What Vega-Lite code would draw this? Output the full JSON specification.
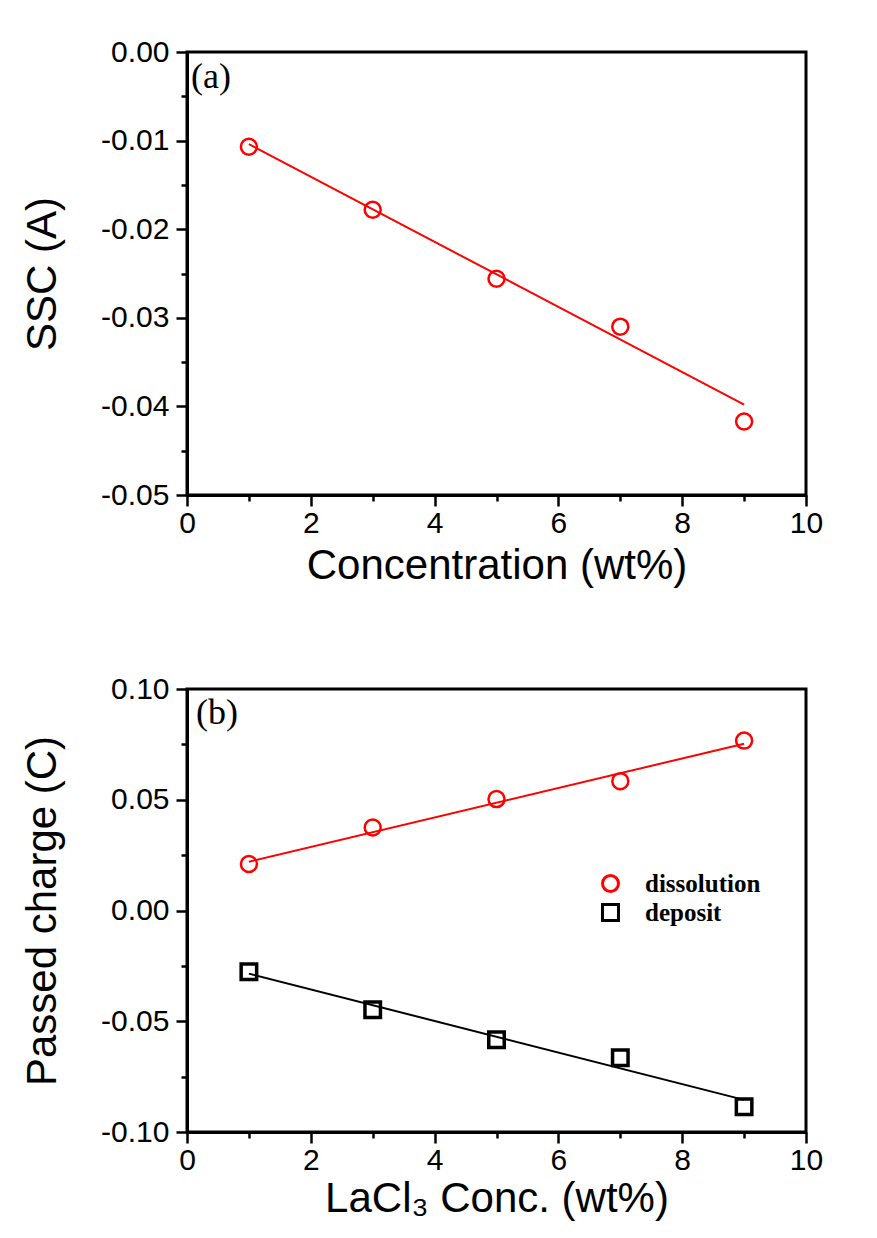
{
  "$schema": "https://vega.github.io/schema/vega-lite/v6.json",
  "background": "white",
  "padding": {"left": 20, "top": 35, "right": 10, "bottom": 10},
  "bounds": "flush",
  "spacing": 194,
  "config": {
    "view": {"stroke": "black", "strokeWidth": 3},
    "axis": {
      "grid": false,
      "domainColor": "black",
      "domainWidth": 3,
      "tickColor": "black",
      "tickWidth": 2.5,
      "labelFont": "Liberation Sans",
      "labelFontSize": 30,
      "labelColor": "black",
      "labelFlush": false,
      "labelOverlap": false,
      "titleFont": "Liberation Sans",
      "titleFontSize": 42,
      "titleFontWeight": "normal",
      "titleColor": "black"
    }
  },
  "datasets": {
    "a": [
      {"conc": 1, "ssc": -0.0107},
      {"conc": 3, "ssc": -0.0178},
      {"conc": 5, "ssc": -0.0256},
      {"conc": 7, "ssc": -0.0310},
      {"conc": 9, "ssc": -0.0417}
    ],
    "afit": [
      {"conc": 1, "ssc": -0.0104},
      {"conc": 9, "ssc": -0.0398}
    ],
    "b": [
      {"conc": 1, "charge": 0.0210, "series": "dissolution"},
      {"conc": 3, "charge": 0.0375, "series": "dissolution"},
      {"conc": 5, "charge": 0.0503, "series": "dissolution"},
      {"conc": 7, "charge": 0.0584, "series": "dissolution"},
      {"conc": 9, "charge": 0.0767, "series": "dissolution"},
      {"conc": 1, "charge": -0.0277, "series": "deposit"},
      {"conc": 3, "charge": -0.0448, "series": "deposit"},
      {"conc": 5, "charge": -0.0584, "series": "deposit"},
      {"conc": 7, "charge": -0.0665, "series": "deposit"},
      {"conc": 9, "charge": -0.0886, "series": "deposit"}
    ],
    "bfit": [
      {"conc": 1, "charge": 0.0220, "series": "dissolution"},
      {"conc": 9, "charge": 0.0753, "series": "dissolution"},
      {"conc": 1, "charge": -0.0285, "series": "deposit"},
      {"conc": 9, "charge": -0.0855, "series": "deposit"}
    ]
  },
  "vconcat": [
    {
      "width": 619,
      "height": 443,
      "layer": [
        {
          "data": {"name": "afit"},
          "mark": {"type": "line", "color": "#FF0000", "strokeWidth": 2},
          "encoding": {
            "x": {
              "field": "conc", "type": "quantitative",
              "scale": {"domain": [0, 10], "nice": false, "zero": false},
              "axis": {
                "title": "Concentration (wt%)",
                "values": [0,1,2,3,4,5,6,7,8,9,10],
                "labelExpr": "datum.value % 2 === 0 ? format(datum.value, 'd') : ''",
                "tickSize": {"condition": {"test": "datum.value % 2 !== 0", "value": 6}, "value": 11},
                "labelPadding": 2,
                "titlePadding": 7
              }
            },
            "y": {
              "field": "ssc", "type": "quantitative",
              "scale": {"domain": [-0.05, 0], "nice": false, "zero": false},
              "axis": {
                "title": "SSC (A)",
                "values": [0,-0.005,-0.01,-0.015,-0.02,-0.025,-0.03,-0.035,-0.04,-0.045,-0.05],
                "labelExpr": "round(abs(datum.value)*200) % 2 === 0 ? replace(format(datum.value, '.2f'), '\u2212', '-') : ''",
                "tickSize": {"condition": {"test": "round(abs(datum.value)*200) % 2 !== 0", "value": 6}, "value": 11},
                "labelPadding": 7,
                "titlePadding": 36
              }
            }
          }
        },
        {
          "data": {"name": "a"},
          "mark": {"type": "point", "shape": "circle", "filled": false, "color": "#FF0000", "size": 256, "strokeWidth": 2.5, "opacity": 1},
          "encoding": {
            "x": {"field": "conc", "type": "quantitative"},
            "y": {"field": "ssc", "type": "quantitative"}
          }
        },
        {
          "data": {"values": [{"label": "(a)"}]},
          "mark": {"type": "text", "font": "Liberation Serif", "fontSize": 36, "align": "left", "baseline": "alphabetic", "color": "black"},
          "encoding": {
            "x": {"datum": 0.065, "type": "quantitative"},
            "y": {"datum": -0.00406, "type": "quantitative"},
            "text": {"field": "label"}
          }
        }
      ]
    },
    {
      "width": 619,
      "height": 443,
      "layer": [
        {
          "data": {"name": "bfit"},
          "transform": [{"filter": "datum.series === 'dissolution'"}],
          "mark": {"type": "line", "color": "#FF0000", "strokeWidth": 2},
          "encoding": {
            "x": {
              "field": "conc", "type": "quantitative",
              "scale": {"domain": [0, 10], "nice": false, "zero": false},
              "axis": {
                "title": "LaCl\u2083 Conc. (wt%)",
                "values": [0,1,2,3,4,5,6,7,8,9,10],
                "labelExpr": "datum.value % 2 === 0 ? format(datum.value, 'd') : ''",
                "tickSize": {"condition": {"test": "datum.value % 2 !== 0", "value": 6}, "value": 11},
                "labelPadding": 2,
                "titlePadding": 3
              }
            },
            "y": {
              "field": "charge", "type": "quantitative",
              "scale": {"domain": [-0.1, 0.1], "nice": false, "zero": false},
              "axis": {
                "title": "Passed charge (C)",
                "values": [0.1,0.075,0.05,0.025,0,-0.025,-0.05,-0.075,-0.1],
                "labelExpr": "round(abs(datum.value)*40) % 2 === 0 ? replace(format(datum.value, '.2f'), '\u2212', '-') : ''",
                "tickSize": {"condition": {"test": "round(abs(datum.value)*40) % 2 !== 0", "value": 6}, "value": 11},
                "labelPadding": 7,
                "titlePadding": 36
              }
            }
          }
        },
        {
          "data": {"name": "bfit"},
          "transform": [{"filter": "datum.series === 'deposit'"}],
          "mark": {"type": "line", "color": "black", "strokeWidth": 2},
          "encoding": {
            "x": {"field": "conc", "type": "quantitative"},
            "y": {"field": "charge", "type": "quantitative"}
          }
        },
        {
          "data": {"name": "b"},
          "transform": [{"filter": "datum.series === 'dissolution'"}],
          "mark": {"type": "point", "filled": false, "size": 256, "strokeWidth": 2.5, "opacity": 1},
          "encoding": {
            "x": {"field": "conc", "type": "quantitative"},
            "y": {"field": "charge", "type": "quantitative"},
            "color": {
              "field": "series", "type": "nominal",
              "scale": {"domain": ["dissolution", "deposit"], "range": ["#FF0000", "#000000"]},
              "legend": {
                "orient": "none", "legendX": 411, "legendY": 819,
                "title": null,
                "labelFont": "Liberation Serif", "labelFontWeight": "bold", "labelFontSize": 25, "labelColor": "black",
                "symbolSize": 256, "symbolStrokeWidth": 3, "symbolOpacity": 1,
                "labelOffset": 22, "rowPadding": 0
              }
            },
            "shape": {
              "field": "series", "type": "nominal",
              "scale": {"domain": ["dissolution", "deposit"], "range": ["circle", "square"]}
            }
          }
        },
        {
          "data": {"name": "b"},
          "transform": [{"filter": "datum.series === 'deposit'"}],
          "mark": {"type": "point", "filled": false, "size": 240, "strokeWidth": 3.5, "opacity": 1},
          "encoding": {
            "x": {"field": "conc", "type": "quantitative"},
            "y": {"field": "charge", "type": "quantitative"},
            "color": {"field": "series", "type": "nominal"},
            "shape": {"field": "series", "type": "nominal"}
          }
        },
        {
          "data": {"values": [{"label": "(b)"}]},
          "mark": {"type": "text", "font": "Liberation Serif", "fontSize": 36, "align": "left", "baseline": "alphabetic", "color": "black"},
          "encoding": {
            "x": {"datum": 0.145, "type": "quantitative"},
            "y": {"datum": 0.0842, "type": "quantitative"},
            "text": {"field": "label"}
          }
        }
      ]
    }
  ]
}
